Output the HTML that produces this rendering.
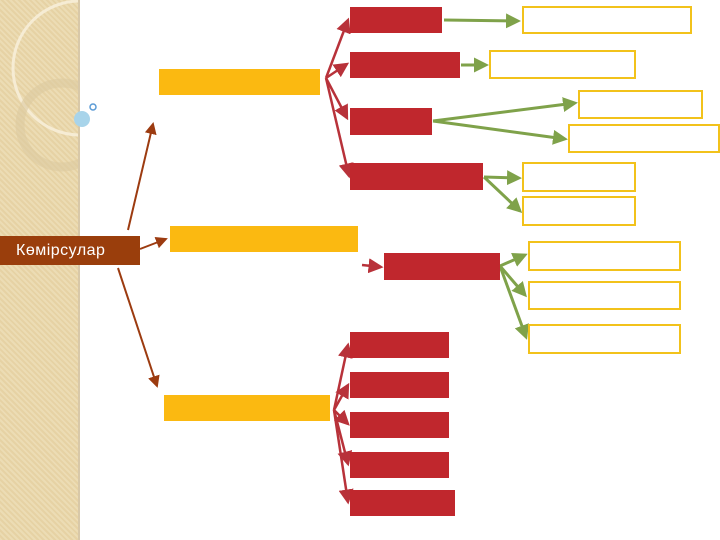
<!DOCTYPE html>
<html><head><style>
body{margin:0;width:720px;height:540px;position:relative;background:#fff;overflow:hidden;font-family:"Liberation Sans",sans-serif}
.r{position:absolute;background:#c0272d}
.o{position:absolute;border:2px solid #f2c21b;box-sizing:border-box;background:#fff}
.y{position:absolute;background:#fbb911}
</style></head><body>
<div style="position:absolute;left:0;top:0;width:78px;height:540px;background:repeating-linear-gradient(45deg,#ecdcb4 0 2px,#e6d2a4 2px 4px);border-right:2px solid #d8c8a8"></div>
<svg width="720" height="540" style="position:absolute;left:0;top:0">
<defs>
<clipPath id="cp"><rect x="0" y="0" width="78" height="540"/></clipPath>
<marker id="b" markerWidth="6" markerHeight="6" refX="5" refY="3" orient="auto"><path d="M0,0L6,3L0,6z" fill="#9c3b10"/></marker>
<marker id="rr" markerWidth="6" markerHeight="6" refX="5" refY="3" orient="auto"><path d="M0,0L6,3L0,6z" fill="#b8323a"/></marker>
<marker id="g" markerWidth="5" markerHeight="5" refX="4" refY="2.5" orient="auto"><path d="M0,0L5,2.5L0,5z" fill="#7fa24a"/></marker>
</defs>
<g clip-path="url(#cp)">
<circle cx="80" cy="68" r="67" fill="none" stroke="#f6ecd4" stroke-width="3"/>
<circle cx="62" cy="125" r="42" fill="none" stroke="#dccaa0" stroke-width="9" opacity="0.6"/>
</g>
<circle cx="82" cy="119" r="8" fill="#a8d4ea"/>
<circle cx="93" cy="107" r="3" fill="none" stroke="#5b9bd5" stroke-width="1.5"/>
<g stroke="#9c3b10" stroke-width="2" fill="none" marker-end="url(#b)">
<line x1="128" y1="230" x2="153" y2="124"/>
<line x1="140" y1="249" x2="166" y2="239"/>
<line x1="118" y1="268" x2="157" y2="386"/>
</g>
<g stroke="#b8323a" stroke-width="2.5" fill="none" marker-end="url(#rr)">
<line x1="326" y1="78" x2="348" y2="20"/>
<line x1="326" y1="78" x2="347" y2="64"/>
<line x1="326" y1="78" x2="347" y2="118"/>
<line x1="326" y1="78" x2="349" y2="176"/>
<line x1="362" y1="265" x2="381" y2="267"/>
<line x1="334" y1="410" x2="348" y2="345"/>
<line x1="334" y1="410" x2="348" y2="385"/>
<line x1="334" y1="410" x2="348" y2="424"/>
<line x1="334" y1="410" x2="348" y2="464"/>
<line x1="334" y1="410" x2="348" y2="502"/>
</g>
<g stroke="#7fa24a" stroke-width="3" fill="none" marker-end="url(#g)">
<line x1="444" y1="20" x2="518" y2="21"/>
<line x1="461" y1="65" x2="486" y2="65"/>
<line x1="433" y1="121" x2="575" y2="103"/>
<line x1="433" y1="121" x2="565" y2="139"/>
<line x1="484" y1="177" x2="519" y2="178"/>
<line x1="484" y1="177" x2="520" y2="211"/>
<line x1="500" y1="266" x2="525" y2="255"/>
<line x1="500" y1="266" x2="525" y2="295"/>
<line x1="500" y1="266" x2="526" y2="337"/>
</g>
</svg>
<div style="position:absolute;left:0;top:236px;width:140px;height:29px;background:#9a3e0c;color:#fff;font-size:16px;line-height:29px;padding-left:16px;box-sizing:border-box;letter-spacing:0.5px">Көмірсулар</div>
<div class="y" style="left:159px;top:69px;width:161px;height:26px"></div>
<div class="y" style="left:170px;top:226px;width:188px;height:26px"></div>
<div class="y" style="left:164px;top:395px;width:166px;height:26px"></div>
<div class="r" style="left:350px;top:7px;width:92px;height:26px"></div>
<div class="r" style="left:350px;top:52px;width:110px;height:26px"></div>
<div class="r" style="left:350px;top:108px;width:82px;height:27px"></div>
<div class="r" style="left:350px;top:163px;width:133px;height:27px"></div>
<div class="r" style="left:384px;top:253px;width:116px;height:27px"></div>
<div class="r" style="left:350px;top:332px;width:99px;height:26px"></div>
<div class="r" style="left:350px;top:372px;width:99px;height:26px"></div>
<div class="r" style="left:350px;top:412px;width:99px;height:26px"></div>
<div class="r" style="left:350px;top:452px;width:99px;height:26px"></div>
<div class="r" style="left:350px;top:490px;width:105px;height:26px"></div>
<div class="o" style="left:522px;top:6px;width:170px;height:28px"></div>
<div class="o" style="left:489px;top:50px;width:147px;height:29px"></div>
<div class="o" style="left:578px;top:90px;width:125px;height:29px"></div>
<div class="o" style="left:568px;top:124px;width:152px;height:29px"></div>
<div class="o" style="left:522px;top:162px;width:114px;height:30px"></div>
<div class="o" style="left:522px;top:196px;width:114px;height:30px"></div>
<div class="o" style="left:528px;top:241px;width:153px;height:30px"></div>
<div class="o" style="left:528px;top:281px;width:153px;height:29px"></div>
<div class="o" style="left:528px;top:324px;width:153px;height:30px"></div>
</body></html>
